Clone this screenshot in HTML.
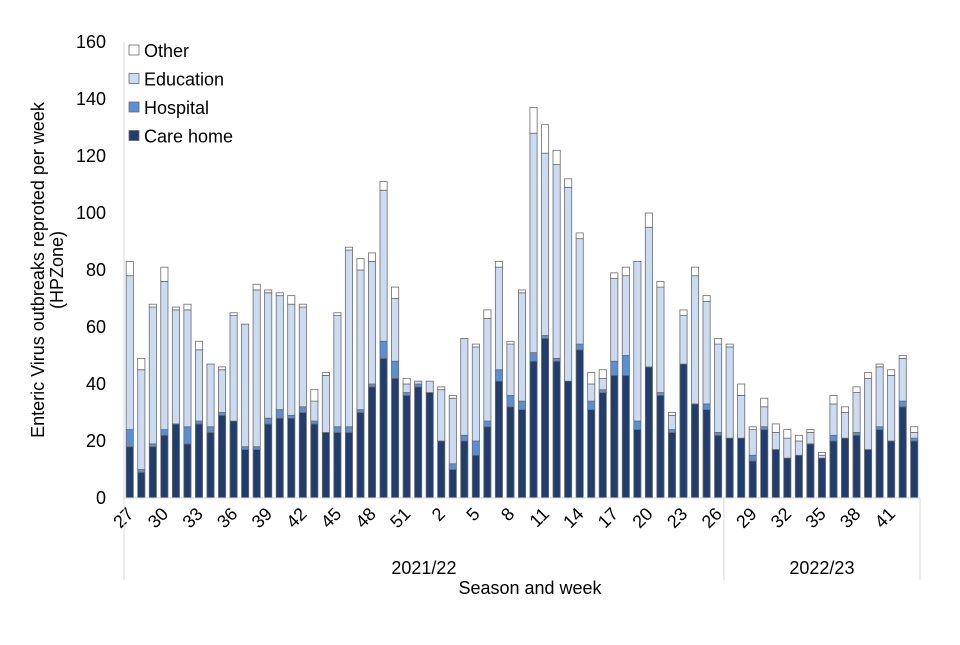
<!DOCTYPE html>
<html><head><meta charset="utf-8"><style>
body{margin:0;background:#fff;font-family:"Liberation Sans",sans-serif;}
svg text{font-family:"Liberation Sans",sans-serif;fill:#000;}
</style></head><body>
<svg id="chart" width="960" height="640"></svg>
<script>
const weeks=[27,28,29,30,31,32,33,34,35,36,37,38,39,40,41,42,43,44,45,46,47,48,49,50,51,52,1,2,3,4,5,6,7,8,9,10,11,12,13,14,15,16,17,18,19,20,21,22,23,24,25,26,27,28,29,30,31,32,33,34,35,36,37,38,39,40,41,42,43];
const careHome=[18,9,18,22,26,19,26,23,29,27,17,17,26,28,28,30,26,23,23,23,30,39,49,42,36,39,37,20,10,20,15,25,41,32,31,48,56,48,41,52,31,37,43,43,24,46,36,23,47,33,31,22,21,21,13,24,17,14,15,19,14,20,21,22,17,24,20,32,20];
const hospital=[6,1,1,2,0,6,1,2,1,0,1,1,2,3,1,2,1,0,2,2,1,1,6,6,1,1,0,0,2,2,5,2,4,4,3,3,1,1,0,2,3,1,5,7,3,0,1,1,0,0,2,1,0,0,2,1,0,0,0,0,0,2,0,1,0,1,0,2,1];
const education=[54,35,48,52,40,41,25,22,15,37,43,55,44,40,39,35,7,20,39,62,49,43,53,22,3,1,4,18,23,34,33,36,36,18,38,77,64,68,68,37,6,4,29,28,56,49,37,5,17,45,36,31,32,15,9,7,6,7,5,4,1,11,9,14,25,21,23,15,2];
const other=[5,4,1,5,1,2,3,0,1,1,0,2,1,1,3,1,4,1,1,1,4,3,3,4,2,0,0,1,1,0,1,3,2,1,1,9,10,5,3,2,4,3,2,3,0,5,2,1,2,3,2,2,1,4,1,3,3,3,2,1,1,3,2,2,2,1,2,1,2];
const yTicks=[0,20,40,60,80,100,120,140,160];
const seasons=["2021/22","2022/23"];
const seasonStart=[0,52];
const seasonEnd=[52,69];
const NS="http://www.w3.org/2000/svg";
const svg=document.getElementById('chart');
const X0=124,X1=920,Y0=498,Y1=42,YMAX=160;
const slot=(X1-X0)/weeks.length;
const y=v=>Y0-(v/YMAX)*(Y0-Y1);
const xc=i=>X0+slot*(i+0.5);
function mk(t,a,txt){const e=document.createElementNS(NS,t);for(const k in a)e.setAttribute(k,a[k]);if(txt!==undefined)e.textContent=txt;svg.appendChild(e);return e;}
yTicks.forEach(v=>{const t=mk('text',{x:106,y:y(v)+6,'text-anchor':'end','font-size':18},String(v));

});
const colors=['#1f3d6e','#5b8fd5','#cadbf2','#ffffff'];
const names=['care-home','hospital','education','other'];
const series=[careHome,hospital,education,other];
weeks.forEach((w,i)=>{let base=0;
series.forEach((s,k)=>{const v=s[i];if(v<=0)return;
const r=mk('rect',{x:xc(i)-3.6,y:y(base+v),width:7.2,height:y(base)-y(base+v),fill:colors[k],stroke:'#6b6b6b','stroke-width':0.8});


base+=v;});
if(i%3===0){const tx=xc(i)+5,ty=515;const t=mk('text',{x:tx,y:ty,'text-anchor':'end','font-size':18,transform:`rotate(-45 ${tx} ${ty})`},String(w));

}
});
const ax=mk('line',{x1:X0,y1:Y0,x2:X1,y2:Y0,stroke:'#d9d9d9','stroke-width':1});


const ay=mk('line',{x1:X0,y1:Y1,x2:X0,y2:Y0,stroke:'#d9d9d9','stroke-width':1});


[0,52,69].forEach(i=>{const l=mk('line',{x1:X0+slot*i,y1:Y0,x2:X0+slot*i,y2:580,stroke:'#d9d9d9','stroke-width':1});

});
seasons.forEach((s,k)=>{const cx=X0+slot*(seasonStart[k]+seasonEnd[k])/2;const t=mk('text',{x:cx,y:574,'text-anchor':'middle','font-size':18},s);

});
const xt=mk('text',{x:530,y:594,'text-anchor':'middle','font-size':18},'Season and week');


const yt=mk('text',{x:0,y:0,'text-anchor':'middle','font-size':18,transform:'translate(44 270) rotate(-90)'},'Enteric Virus outbreaks reproted per week');


const yt2=mk('text',{x:0,y:0,'text-anchor':'middle','font-size':18,transform:'translate(63 270) rotate(-90)'},'(HPZone)');


const legNames=['Other','Education','Hospital','Care home'];
const legColors=['#ffffff','#cadbf2','#5b8fd5','#1f3d6e'];
legNames.forEach((n,k)=>{const yy=51+k*28.5;
const r=mk('rect',{x:129,y:yy-6,width:10,height:10,fill:legColors[k],stroke:'#6b6b6b','stroke-width':0.8});


const t=mk('text',{x:144,y:yy+6,'font-size':18},n);

});
</script>
</body></html>
